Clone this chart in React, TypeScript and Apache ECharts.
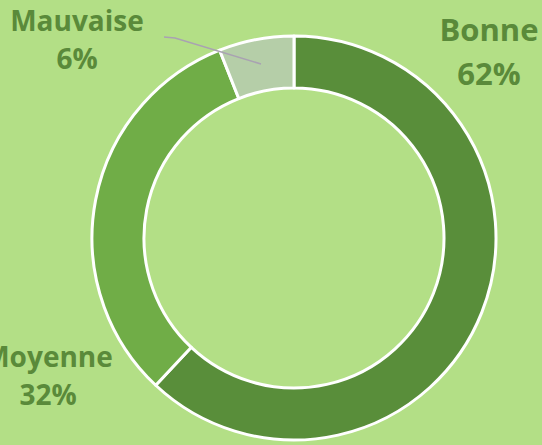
import React, { useEffect, useRef } from "react";
import * as echarts from "echarts";

const categories = ["Bonne", "Moyenne", "Mauvaise"];
const values = [62, 32, 6];
const colors = ["#598e3a", "#70ad47", "#b5cea8"];

export default function App() {
  const ref = useRef<HTMLDivElement>(null);
  useEffect(() => {
    if (!ref.current) return;
    const chart = echarts.init(ref.current, null, { renderer: "svg" });
    const labelPos: Record<string, any> = {
      Bonne: { x: 489, y: 51, fontSize: 31, lineHeight: 44 },
      Moyenne: { x: 48, y: 375, fontSize: 28, lineHeight: 38 },
      Mauvaise: { x: 77, y: 39, fontSize: 28, lineHeight: 38 },
    };
    const leaderLine = [
      [164, 37],
      [175, 38],
      [261, 64],
    ];
    chart.setOption({
      animation: false,
      backgroundColor: "#b3df86",
      graphic: [
        {
          type: "polyline",
          z: 100,
          silent: true,
          shape: { points: leaderLine },
          style: { stroke: "#a9a2b2", lineWidth: 1.5, fill: null },
        },
      ],
      series: [
        {
          type: "pie",
          center: [294, 238],
          radius: [150, 202],
          startAngle: 90,
          clockwise: true,
          avoidLabelOverlap: false,
          itemStyle: { borderColor: "#ffffff", borderWidth: 3 },
          label: {
            show: true,
            formatter: (p: any) => `${p.name}\n${Math.round(p.percent)}%`,
            fontFamily: "Open Sans",
            fontWeight: "bold",
            fontSize: 28,
            lineHeight: 38,
            color: "#5a8a3a",
            align: "center",
          },
          labelLine: { show: false },
          labelLayout: (params: any) => {
            const name = categories[params.dataIndex];
            const pos = labelPos[name];
            return {
              x: pos.x,
              y: pos.y,
              align: "center",
              verticalAlign: "middle",
            };
          },
          data: categories.map((c, i) => ({
            name: c,
            value: values[i],
            itemStyle: { color: colors[i] },
            label: {
              fontSize: labelPos[c].fontSize,
              lineHeight: labelPos[c].lineHeight,
            },
          })),
        },
      ],
    });
    return () => chart.dispose();
  }, []);
  return (
    <div
      ref={ref}
      style={{ position: "fixed", left: 0, top: 0, width: 542, height: 445 }}
    />
  );
}
